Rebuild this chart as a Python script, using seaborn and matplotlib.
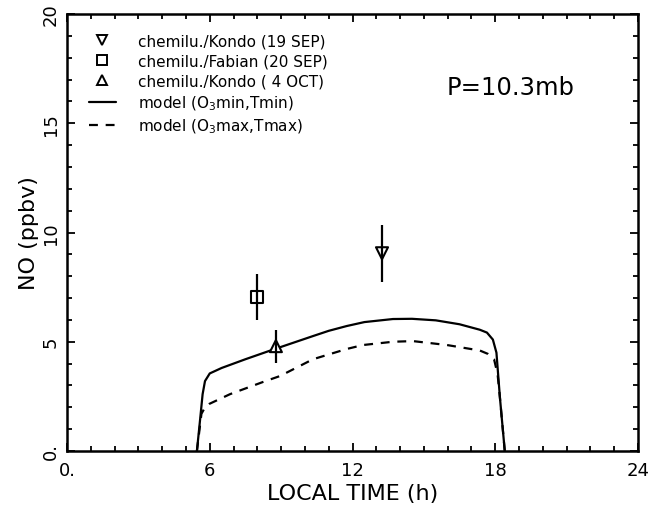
import numpy as np
import pandas as pd
import matplotlib
matplotlib.use("Agg")
import matplotlib.pyplot as plt
from matplotlib.lines import Line2D
from matplotlib.ticker import MultipleLocator, FixedLocator
import seaborn as sns

# ---- data ----
t_min = [5.46, 5.6, 5.7, 5.8, 6.0, 6.5, 7.5, 8.5, 9.5, 10.34, 11.0, 11.76, 12.5,
         13.7, 14.5, 15.5, 16.5, 17.35, 17.65, 17.9, 18.05, 18.2, 18.4]
no_min = [0.0, 1.5, 2.6, 3.2, 3.55, 3.8, 4.2, 4.58, 4.95, 5.26, 5.5, 5.72, 5.9,
          6.04, 6.05, 5.98, 5.8, 5.55, 5.42, 5.1, 4.5, 2.4, 0.0]

t_max = [5.46, 5.65, 5.8, 5.97, 6.85, 8.24, 8.95, 10.34, 11.76, 12.44, 13.7,
         14.54, 15.97, 17.35, 17.7, 17.95, 18.1, 18.2, 18.4]
no_max = [0.0, 1.7, 2.0, 2.15, 2.6, 3.16, 3.43, 4.2, 4.67, 4.85, 5.0,
          5.03, 4.85, 4.6, 4.44, 4.2, 3.5, 2.4, 0.0]

obs_labels = ["chemilu./Kondo (19 SEP)", "chemilu./Fabian (20 SEP)", "chemilu./Kondo ( 4 OCT)"]
obs_t = [13.24, 7.98, 8.78]
obs_no = [9.05, 7.05, 4.8]
obs_err = [1.3, 1.05, 0.75]
obs_markers = ["v", "s", "^"]

model_labels = ["model (O$_3$min,Tmin)", "model (O$_3$max,Tmax)"]

x_ticks = [0, 6, 12, 18, 24]
x_ticklabels = ["0.", "6", "12", "18", "24"]
y_ticks = [0, 5, 10, 15, 20]
y_ticklabels = ["0.", "5", "10", "15", "20"]

# ---- style ----
sns.set_style("ticks")
plt.rcParams["font.family"] = ["DejaVu Sans"]
plt.rcParams.update({"text.color": "black", "axes.labelcolor": "black",
                     "xtick.color": "black", "ytick.color": "black"})

fig = plt.figure(figsize=(6.57, 5.10), dpi=100)
ax = fig.add_axes([67/657, 1-452/510, (638-67)/657, (452-15)/510])

df_min = pd.DataFrame({"t": t_min, "no": no_min})
df_max = pd.DataFrame({"t": t_max, "no": no_max})
sns.lineplot(data=df_min, x="t", y="no", ax=ax, color="black", lw=1.6,
             sort=False, estimator=None)
sns.lineplot(data=df_max, x="t", y="no", ax=ax, color="black", lw=1.6,
             sort=False, estimator=None)
ax.lines[-1].set_dashes((4, 3.5))

sns.scatterplot(x=obs_t, y=obs_no, style=obs_labels, markers=dict(zip(obs_labels, obs_markers)),
                ax=ax, s=75, facecolor="white", edgecolor="black", linewidth=1.5,
                legend=False, zorder=5)
for t, v, e in zip(obs_t, obs_no, obs_err):
    eb = ax.errorbar([t], [v], yerr=[e], fmt="none", ecolor="black", elinewidth=1.6,
                     capsize=0, zorder=6)

ax.set_xlim(0, 24)
ax.set_ylim(0, 20)
ax.xaxis.set_major_locator(FixedLocator(x_ticks))
ax.set_xticklabels(x_ticklabels, fontsize=13)
ax.yaxis.set_major_locator(FixedLocator(y_ticks))
ax.set_yticklabels(y_ticklabels, fontsize=13, rotation=90, va="center")
ax.xaxis.set_minor_locator(MultipleLocator(1))
ax.yaxis.set_minor_locator(MultipleLocator(1))
ax.tick_params(which="both", direction="in", top=True, right=True, width=1.3, color="black")
ax.tick_params(which="major", length=6, pad=7)
ax.tick_params(axis="y", which="major", pad=5)
ax.tick_params(which="minor", length=3.5)
for s in ax.spines.values():
    s.set_linewidth(1.8)
    s.set_color("black")

ax.set_xlabel("LOCAL TIME (h)", fontsize=16, labelpad=3)
ax.set_ylabel("NO (ppbv)", fontsize=16, labelpad=2)

ax.text(447/657, 1 - 88/510, "P=10.3mb", transform=fig.transFigure, fontsize=17.5,
        va="center", ha="left")

handles = [Line2D([], [], ls="none", marker=m, mfc="white", mec="black", mew=1.4, ms=7, color="black")
           for m in obs_markers]
handles += [Line2D([], [], color="black", lw=1.6),
            Line2D([], [], color="black", lw=1.6, dashes=(4, 3.5))]
ax.legend(handles, obs_labels + model_labels, loc="upper left", frameon=False,
          fontsize=11, handlelength=1.75, handletextpad=1.45, labelspacing=0.33,
          bbox_to_anchor=(0.02, 0.98), borderaxespad=0.3)

fig.savefig("out.png", dpi=100, facecolor="white")
